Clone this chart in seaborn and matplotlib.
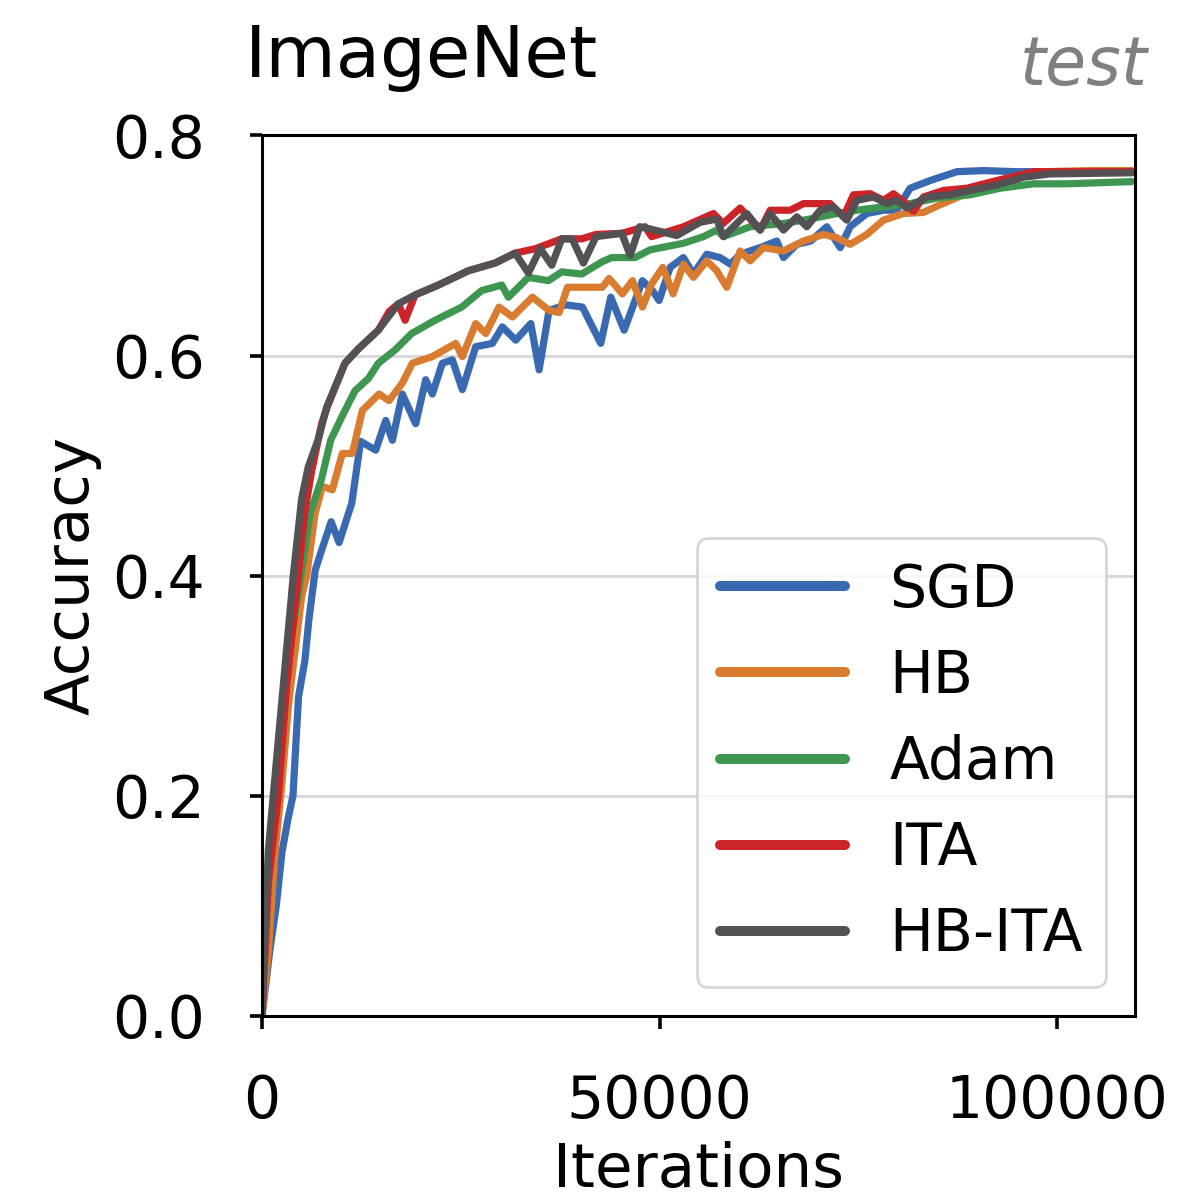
import matplotlib.pyplot as plt
import pandas as pd
import seaborn as sns
from matplotlib.lines import Line2D

# Optimizers and their colours
methods = ['SGD', 'HB', 'Adam', 'ITA', 'HB-ITA']
colors = ['#396AB1', '#DA7C30', '#3E9651', '#CC2529', '#535154']

# Test accuracy curves
sgd_x = [0, 1000, 1800, 2500, 3300, 3900, 4600, 5400, 5900, 6700, 7500, 8700, 9700,
         11300, 12400, 14300, 15560, 16400, 17650, 19330, 20590, 21430, 22680, 23940,
         25200, 26880, 28970, 30230, 31910, 33800, 34850, 36100, 38200, 40300, 42600,
         43860, 45540, 47840, 49100, 49940, 51320, 52990, 54250, 55930, 57600, 58900,
         60130, 62640, 64740, 65580, 67260, 69000, 71030, 72710, 73960, 76060, 78160,
         79800, 81510, 84030, 87380, 90740, 95000, 100000, 105000, 109400]
sgd_y = [0.0, 0.06, 0.10, 0.148, 0.18, 0.20, 0.29, 0.323, 0.36, 0.405, 0.423, 0.449, 0.43,
         0.466, 0.522, 0.514, 0.541, 0.523, 0.565, 0.538, 0.578, 0.565, 0.593, 0.596,
         0.569, 0.608, 0.611, 0.626, 0.614, 0.629, 0.587, 0.641, 0.646, 0.644, 0.611,
         0.653, 0.623, 0.668, 0.659, 0.65, 0.68, 0.689, 0.674, 0.692, 0.689, 0.683,
         0.692, 0.698, 0.704, 0.689, 0.701, 0.704, 0.717, 0.698, 0.717, 0.729, 0.732,
         0.732, 0.752, 0.759, 0.767, 0.768, 0.767, 0.767, 0.767, 0.767]

hb_x = [0, 800, 1635, 2474, 3312, 4151, 4990, 5620, 6667, 7590, 8848, 10107, 11363,
        12621, 14718, 15976, 17652, 18910, 21426, 24361, 25200, 26877, 28135, 29812,
        31490, 34006, 36103, 37361, 38409, 42812, 43651, 45328, 46586, 47844, 49000,
        50400, 51700, 53000, 54250, 55930, 57190, 58450, 60130, 61390, 63060, 65580,
        68090, 70610, 72290, 73960, 76060, 78160, 80670, 83180, 85280, 88220, 91570,
        94920, 98280, 104000, 109400]
hb_y = [0.0, 0.059, 0.148, 0.209, 0.281, 0.331, 0.381, 0.40, 0.456, 0.481, 0.478, 0.511,
        0.511, 0.55, 0.565, 0.559, 0.575, 0.593, 0.599, 0.611, 0.599, 0.629, 0.62, 0.644,
        0.635, 0.653, 0.641, 0.639, 0.662, 0.662, 0.67, 0.656, 0.668, 0.644, 0.665,
        0.68, 0.656, 0.683, 0.671, 0.686, 0.677, 0.662, 0.695, 0.686, 0.698, 0.695,
        0.704, 0.71, 0.707, 0.701, 0.71, 0.723, 0.729, 0.73, 0.737, 0.746, 0.755,
        0.762, 0.767, 0.768, 0.768]

adam_x = [0, 400, 1216, 2474, 3731, 4990, 6037, 7500, 8638, 10022, 11699, 13376, 14634,
          16731, 18827, 21762, 25117, 27633, 30149, 30987, 33503, 36019, 37697, 40213,
          42729, 43987, 46922, 48806, 53000, 55519, 57190, 58030, 61390, 65580, 68930,
          72290, 74800, 78160, 81510, 84860, 89060, 92830, 97030, 101220, 109400]
adam_y = [0.0, 0.09, 0.166, 0.256, 0.345, 0.405, 0.456, 0.488, 0.523, 0.544, 0.568,
          0.579, 0.593, 0.605, 0.62, 0.632, 0.644, 0.659, 0.664, 0.653, 0.671, 0.668,
          0.676, 0.674, 0.685, 0.689, 0.689, 0.696, 0.702, 0.708, 0.714, 0.708, 0.717,
          0.72, 0.724, 0.729, 0.732, 0.735, 0.738, 0.743, 0.746, 0.752, 0.756, 0.756,
          0.758]

ita_x = [0, 800, 2050, 3100, 4570, 5409, 6248, 7500, 8300, 10441, 12118, 14634, 16000,
         17150, 18000, 19246, 22181, 25955, 29310, 31826, 34342, 37697, 40213, 42000,
         45244, 48180, 49000, 53000, 56770, 58000, 60130, 62640, 63900, 66420, 68090,
         71450, 73120, 74380, 76480, 78160, 79410, 80670, 81930, 83180, 85700, 88640,
         92410, 97030, 109400]
ita_y = [0.0, 0.12, 0.2, 0.3, 0.4, 0.459, 0.495, 0.538, 0.555, 0.593, 0.606, 0.623, 0.64,
         0.647, 0.632, 0.655, 0.664, 0.677, 0.684, 0.693, 0.697, 0.706, 0.706, 0.71,
         0.711, 0.717, 0.708, 0.717, 0.729, 0.72, 0.734, 0.714, 0.732, 0.732, 0.738,
         0.738, 0.726, 0.746, 0.747, 0.741, 0.747, 0.74, 0.731, 0.744, 0.75, 0.752,
         0.759, 0.767, 0.767]

hbita_x = [0, 380, 800, 1420, 2680, 3940, 4990, 5828, 7080, 8135, 10441, 12118, 14634,
           17150, 19246, 22181, 25955, 29310, 31826, 33500, 35000, 36440, 37697, 39000,
           40420, 42000, 45244, 46300, 47500, 48806, 52160, 55100, 57190, 58030, 60970,
           62640, 63900, 65580, 67260, 68510, 70190, 71870, 73540, 74800, 76900, 78570,
           79830, 81090, 83600, 86540, 89060, 92410, 95770, 99120, 109400]
hbita_y = [0.0, 0.075, 0.15, 0.2, 0.3, 0.4, 0.47, 0.499, 0.524, 0.553, 0.593, 0.606,
           0.623, 0.647, 0.655, 0.664, 0.677, 0.684, 0.693, 0.675, 0.697, 0.682, 0.706,
           0.706, 0.684, 0.708, 0.711, 0.691, 0.717, 0.715, 0.709, 0.721, 0.724, 0.708,
           0.729, 0.714, 0.729, 0.714, 0.726, 0.717, 0.732, 0.735, 0.723, 0.741, 0.744,
           0.738, 0.741, 0.734, 0.744, 0.746, 0.75, 0.755, 0.762, 0.765, 0.766]

xs_all = [sgd_x, hb_x, adam_x, ita_x, hbita_x]
ys_all = [sgd_y, hb_y, adam_y, ita_y, hbita_y]

frames = []
for name, xs, ys in zip(methods, xs_all, ys_all):
    frames.append(pd.DataFrame({'Iterations': xs, 'Accuracy': ys, 'method': name}))
df = pd.concat(frames, ignore_index=True)

sns.set_style('ticks')
plt.rcParams['font.family'] = ['DejaVu Sans']
plt.rcParams['text.color'] = 'black'
plt.rcParams['axes.labelcolor'] = 'black'
plt.rcParams['xtick.color'] = 'black'
plt.rcParams['ytick.color'] = 'black'

fig = plt.figure(figsize=(5.9, 5.99), dpi=200)
ax = fig.add_axes([0.222, 0.152, 0.740, 0.735])

sns.lineplot(data=df, x='Iterations', y='Accuracy', hue='method', hue_order=methods,
             palette=colors, estimator=None, sort=True, linewidth=2.6, ax=ax, legend=False)

ax.set_xlim(0, 109800)
ax.set_ylim(0, 0.8)
ax.set_xticks([0, 50000, 100000])
ax.set_yticks([0.0, 0.2, 0.4, 0.6, 0.8])
ax.yaxis.grid(True, color='#d6d6d6', linewidth=1.0)
ax.xaxis.grid(False)
ax.set_axisbelow(True)
for s in ax.spines.values():
    s.set_visible(True)
    s.set_color('black')
    s.set_linewidth(1.1)
ax.tick_params(labelsize=21, length=4.5, width=1.3, pad=16, direction='out')
ax.set_xlabel('Iterations', fontsize=22, labelpad=4)
ax.set_ylabel('Accuracy', fontsize=22, labelpad=4)

handles = [Line2D([], [], color=c, lw=3.6) for c in colors]
leg = ax.legend(handles, methods, loc='lower right', fontsize=21, handlelength=2.15,
                handletextpad=0.75, labelspacing=0.5, frameon=True, fancybox=True)
leg.get_frame().set_edgecolor('#cccccc')
leg.get_frame().set_linewidth(1.0)

fig.text(245 / 1180, 1 - 77 / 1198, 'ImageNet', fontsize=26, va='baseline', ha='left')
fig.text(1148 / 1180, 1 - 85 / 1198, 'test', fontsize=24, style='italic', color='gray',
         va='baseline', ha='right')

fig.savefig('out.png', dpi=200)
